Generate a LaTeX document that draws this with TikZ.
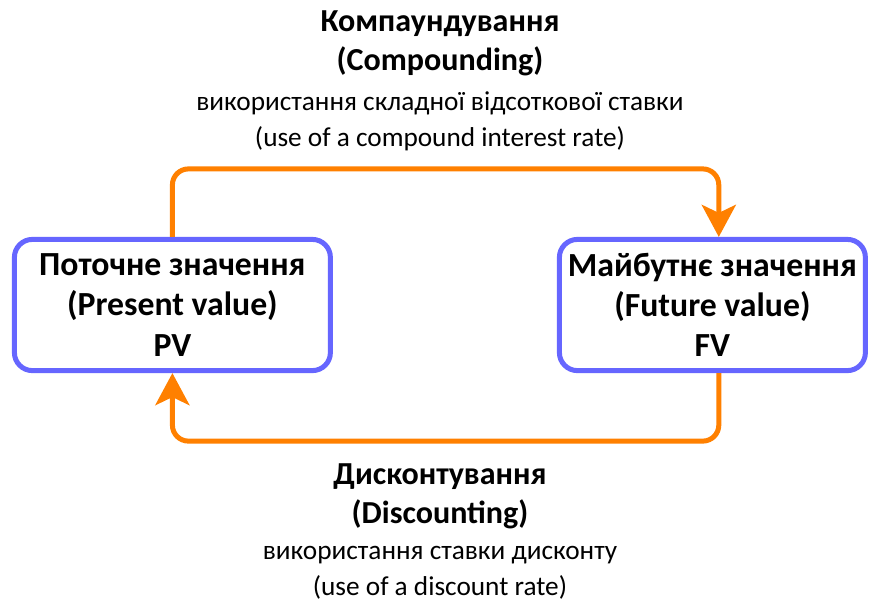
\documentclass[tikz,border=0pt]{standalone}
\usepackage{fontspec}
\setmainfont{Carlito}
\usetikzlibrary{arrows.meta, positioning}
\definecolor{boxblue}{RGB}{102,102,255}
\definecolor{flowor}{RGB}{255,128,0}

\begin{document}
\begin{tikzpicture}[
    valuebox/.style={draw=boxblue, line width=0.125cm, rounded corners=0.45cm, fill=white, align=center, minimum height=3.28cm, font=\fontsize{24}{28.5}\selectfont\bfseries},
    flow/.style={draw=flowor, line width=0.125cm, rounded corners=0.4cm, -{Stealth[length=0.8cm, width=0.85cm, inset=0.2cm]}},
    heading/.style={align=center, font=\fontsize{22.8}{28}\selectfont\bfseries},
    note/.style={align=center, font=\fontsize{19.4}{25.6}\selectfont}
]
    \useasboundingbox (0,0) rectangle (21.75,-15.025);

    \node[valuebox, minimum width=7.9cm] (pv) at (4.31,-7.625) {Поточне значення\\(Present value)\\PV};
    \node[valuebox, minimum width=7.65cm] (fv) at (17.81,-7.625) {Майбутнє значення\\(Future value)\\FV};

    \draw[flow] (pv.north) -- ++(0,1.7) -| ([xshift=0.16cm]fv.north);
    \draw[flow] ([xshift=0.16cm]fv.south) -- ++(0,-1.7) -| (pv.south);

    \node[heading] (comp) at (11,-1.09) {Компаундування\\(Compounding)};
    \node[note] (compnote) at (11,-3.04) {використання складної відсоткової ставки\\(use of a compound interest rate)};
    \node[heading] (disc) at (11,-12.40) {Дисконтування\\(Discounting)};
    \node[note] (discnote) at (11,-14.31) {використання ставки дисконту\\(use of a discount rate)};
\end{tikzpicture}
\end{document}
